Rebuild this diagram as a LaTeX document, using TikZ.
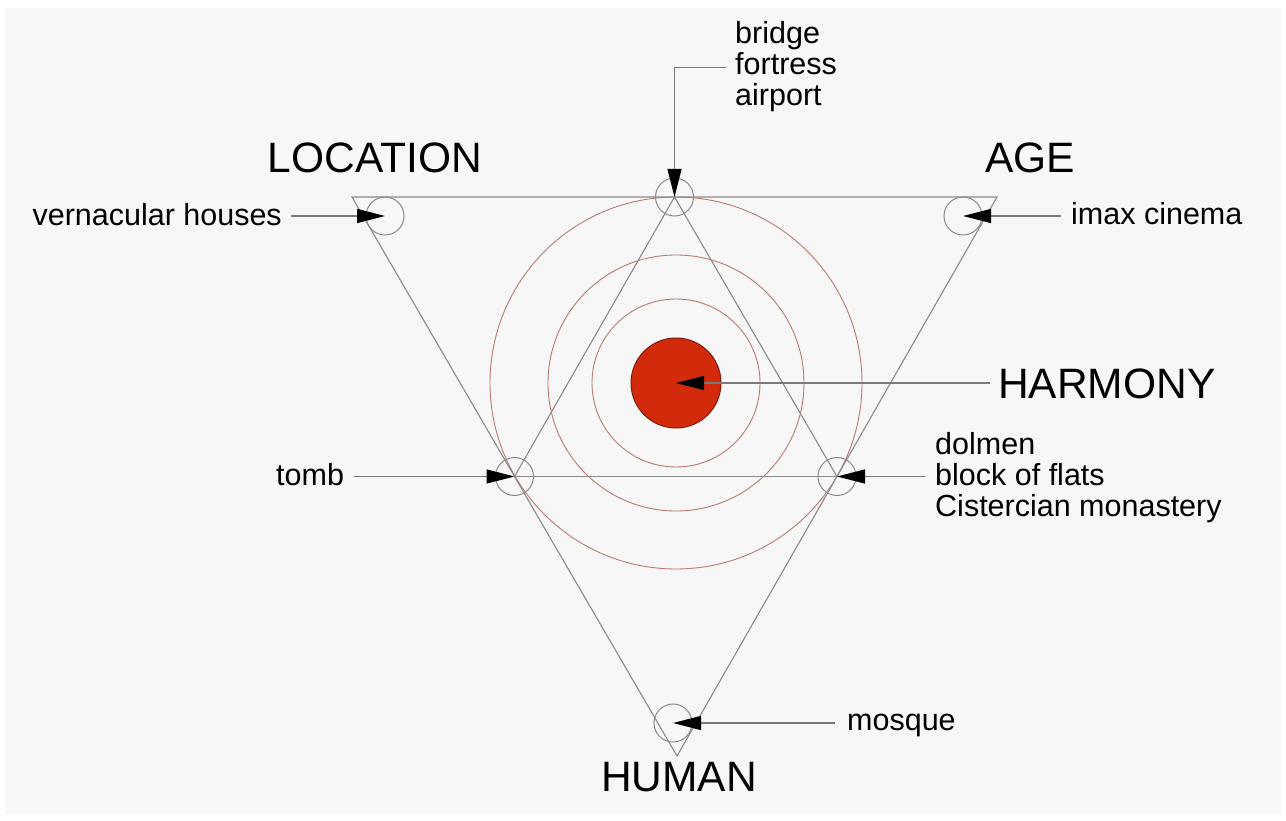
\documentclass[tikz,border=0pt]{standalone}
\usepackage{fontspec}
\setmainfont{Liberation Sans}
\usetikzlibrary{arrows.meta}
\definecolor{bg}{HTML}{F7F7F7}
\definecolor{lin}{HTML}{8A8A8A}
\definecolor{stem}{HTML}{7A7A7A}
\definecolor{ring}{HTML}{B87A72}
\definecolor{disc}{HTML}{D42A0C}
\definecolor{discedge}{HTML}{7A1E12}
\begin{document}
\begin{tikzpicture}[x=1pt,y=-1pt,
  tri/.style={draw=lin, line width=1.1pt},
  vcirc/.style={circle, draw=lin, line width=1pt, minimum size=38pt, inner sep=0pt},
  ringc/.style={draw=ring, line width=0.9pt},
  arr/.style={draw=stem, line width=1.2pt, -{Triangle[length=28pt,width=14pt,color=black]}},
  small/.style={font=\fontsize{30.5}{31}\selectfont, inner sep=0pt},
  big/.style={font=\fontsize{42.5}{46}\selectfont, inner sep=0pt}]
\useasboundingbox (0,0) rectangle (1286,821);
\fill[white] (0,0) rectangle (1286,821);
\fill[bg] (5,8) rectangle (1281,814);
% rings and disc
\draw[ringc] (676,383) circle[radius=186pt];
\draw[ringc] (676,383) circle[radius=128pt];
\draw[ringc] (676,383) circle[radius=84pt];
\node[circle, fill=disc, draw=discedge, line width=1pt, minimum size=90pt, inner sep=0pt] (harm) at (676,383) {};
% triangle
\coordinate (A) at (352,197);
\coordinate (B) at (997,197);
\coordinate (C) at (677,756);
\draw[tri] (A) -- (B) -- (C) -- cycle;
% vertex circles
\node[vcirc] (cLoc) at (385,216) {};
\node[vcirc] (cAge) at (963,216) {};
\node[vcirc] (cHum) at (673,723) {};
\node[vcirc] (cT) at (674.5,197) {};
\node[vcirc] (cL) at (514.5,476.5) {};
\node[vcirc] (cR) at (837,476.5) {};
\draw[tri] (cL.center) -- (cT.center) -- (cR.center);
\draw[tri] (cL.center) -- (cR.center);
% big labels
\node[big, anchor=base] (loc) at (375,173) {LOCATION};
\node[big, anchor=base] (age) at (1030,173) {AGE};
\node[big, anchor=base] (hum) at (679,791) {HUMAN};
\node[big, anchor=base west] (hl) at (998,398) {HARMONY};
% small labels
\node[small, anchor=base east] (vh) at (282,226) {vernacular houses};
\node[small, anchor=base west] (imax) at (1071,225) {imax cinema};
\node[small, anchor=base west] (tomb) at (276,485) {tomb};
\node[small, anchor=base west, align=left] (dol) at (935,516) {dolmen\\block of flats\\Cistercian monastery};
\node[small, anchor=base west] (mos) at (847,730) {mosque};
\node[small, anchor=base west, align=left] (br) at (735,106) {bridge\\fortress\\airport};
% arrows
\draw[arr] ([xshift=9pt]vh.east |- cLoc.center) -- (cLoc.center);
\draw[arr] ([xshift=-10pt]imax.west |- cAge.center) -- (cAge.center);
\draw[arr] ([xshift=10pt]tomb.east |- cL.center) -- (cL.center);
\draw[arr] ([xshift=-10pt]dol.west |- cR.center) -- (cR.center);
\draw[arr] ([xshift=-8pt]hl.west |- harm.center) -- (harm.center);
\draw[arr] ([xshift=-12pt]mos.west |- cHum.center) -- (cHum.center);
\draw[arr] ([xshift=-9pt]br.west) -| (cT.center);
\end{tikzpicture}
\end{document}
